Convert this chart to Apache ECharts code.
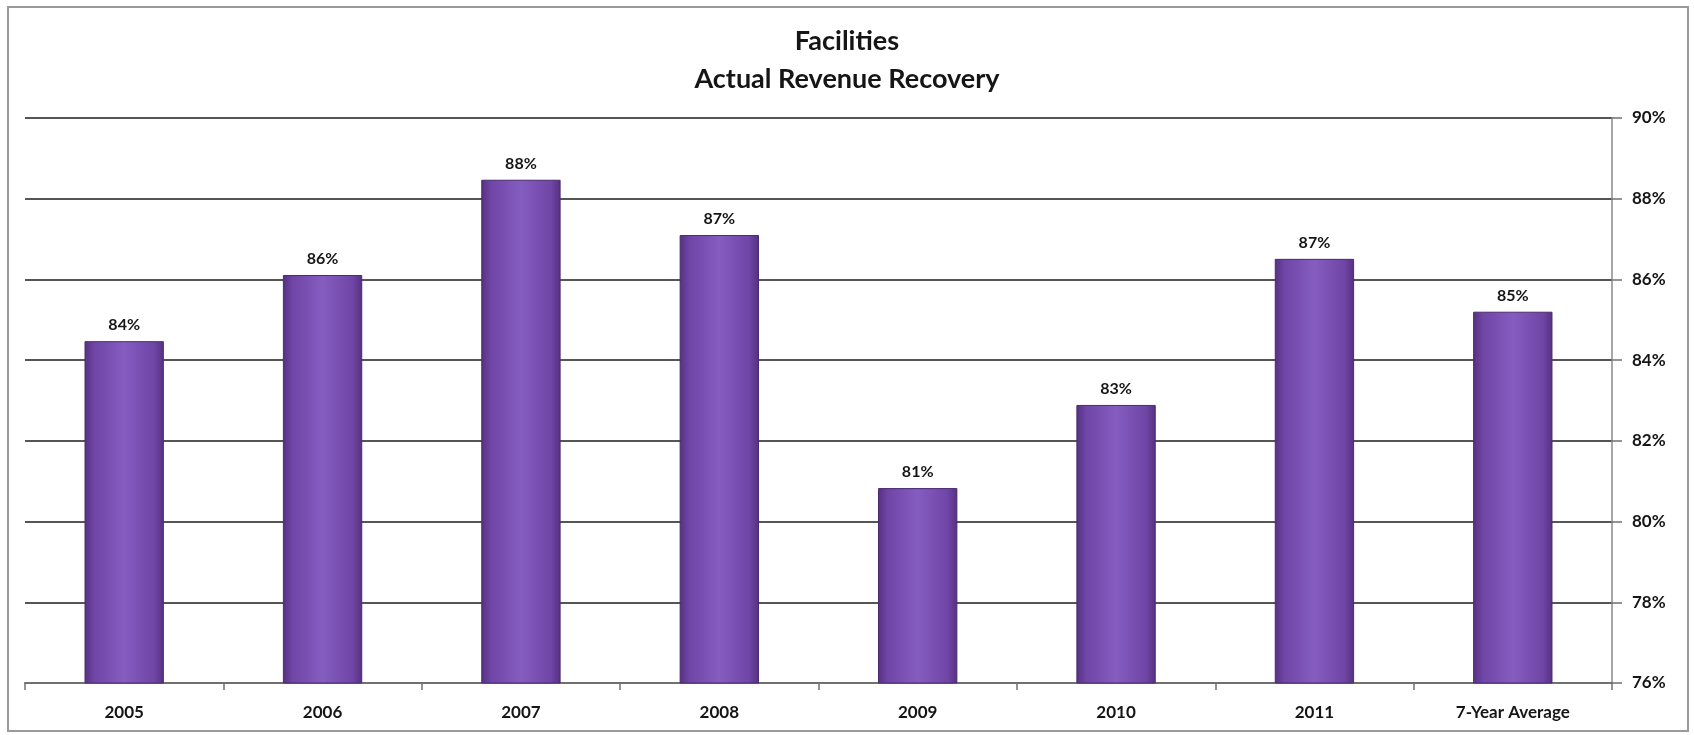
<!DOCTYPE html>
<html>
<head>
<meta charset="utf-8">
<script src="https://cdn.jsdelivr.net/npm/echarts@6/dist/echarts.min.js"></script>
<style>
  html, body { margin: 0; padding: 0; background: #ffffff; }
  #chart { width: 1694px; height: 735px; }
</style>
</head>
<body>
<div id="chart"></div>
<script>
// Revenue recovery by year, in percent
const categories = ['2005', '2006', '2007', '2008', '2009', '2010', '2011', '7-Year Average'];
const recovery = [84.47, 86.11, 88.47, 87.10, 80.83, 82.89, 86.51, 85.20];
const titleLines = ['Facilities', 'Actual Revenue Recovery'];

const FONT = 'Lato, "Open Sans", sans-serif';

const chart = echarts.init(document.getElementById('chart'));

chart.setOption({
  backgroundColor: '#ffffff',
  animation: false,
  title: {
    text: titleLines.join('\n'),
    left: 'center',
    top: 17,
    textStyle: {
      fontFamily: FONT,
      fontWeight: 'bold',
      fontSize: 27,
      lineHeight: 38,
      color: '#151515'
    }
  },
  graphic: [{
    type: 'rect',
    shape: { x: 8, y: 7, width: 1680, height: 724 },
    style: { fill: 'none', stroke: '#9a9a9a', lineWidth: 2 },
    silent: true,
    z: -1
  }],
  grid: { left: 25, right: 82, top: 118, bottom: 52 },
  xAxis: {
    type: 'category',
    data: categories,
    axisLine: { show: true, lineStyle: { color: '#707070', width: 2 } },
    axisTick: { show: true, alignWithLabel: false, length: 7, lineStyle: { color: '#707070', width: 1.5 } },
    axisLabel: {
      margin: 21,
      fontFamily: FONT,
      fontWeight: 'bold',
      fontSize: 17,
      color: '#151515'
    }
  },
  yAxis: {
    type: 'value',
    position: 'right',
    min: 76,
    max: 90,
    interval: 2,
    axisLine: { show: true, lineStyle: { color: '#8a8a8a', width: 1.5 } },
    axisTick: { show: true, length: 10, lineStyle: { color: '#707070', width: 1.5 } },
    axisLabel: {
      formatter: '{value}%',
      margin: 20,
      fontFamily: FONT,
      fontWeight: 'bold',
      fontSize: 17,
      color: '#151515'
    },
    splitLine: { show: true, lineStyle: { color: '#555555', width: 2 } }
  },
  series: [{
    type: 'bar',
    data: recovery,
    barWidth: '40%',
    itemStyle: {
      color: new echarts.graphic.LinearGradient(0, 0, 1, 0, [
        { offset: 0, color: '#55317f' },
        { offset: 0.12, color: '#6f45a6' },
        { offset: 0.5, color: '#855cc0' },
        { offset: 0.88, color: '#6f45a6' },
        { offset: 1, color: '#55317f' }
      ]),
      borderColor: '#4a2b70',
      borderWidth: 1
    },
    label: {
      show: true,
      position: 'top',
      distance: 8,
      formatter: p => Math.round(p.value) + '%',
      fontFamily: FONT,
      fontWeight: 'bold',
      fontSize: 16,
      color: '#151515'
    }
  }]
});
</script>
</body>
</html>
